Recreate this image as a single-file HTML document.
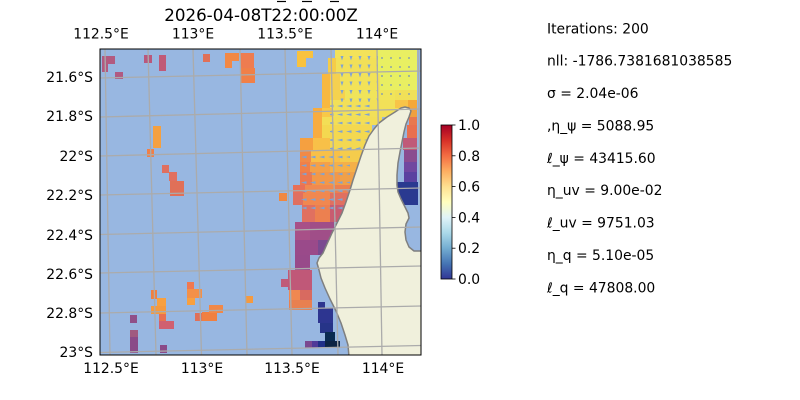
<!DOCTYPE html>
<html><head><meta charset="utf-8"><style>
html,body{margin:0;padding:0;background:#fff;}
svg{display:block;}
text{font-family:"DejaVu Sans","Liberation Sans",sans-serif;fill:#000;}
</style></head><body>
<svg width="800" height="400" viewBox="0 0 800 400" xmlns="http://www.w3.org/2000/svg">
<defs>
<clipPath id="ax"><rect x="100" y="49" width="321" height="306"/></clipPath>
<linearGradient id="cb" x1="0" y1="1" x2="0" y2="0">
<stop offset="0" stop-color="#313695"/><stop offset="0.1" stop-color="#4575b4"/>
<stop offset="0.2" stop-color="#74add1"/><stop offset="0.3" stop-color="#abd9e9"/>
<stop offset="0.4" stop-color="#e0f3f8"/><stop offset="0.5" stop-color="#ffffbf"/>
<stop offset="0.6" stop-color="#fee090"/><stop offset="0.7" stop-color="#fdae61"/>
<stop offset="0.8" stop-color="#f46d43"/><stop offset="0.9" stop-color="#d73027"/>
<stop offset="1" stop-color="#a50026"/></linearGradient>
<pattern id="pa" x="338" y="54" width="9" height="8.5" patternUnits="userSpaceOnUse"><path d="M2.5,2 L5.5,2 L4,6.5 Z" fill="#7fa3d3"/></pattern>
<pattern id="pb" x="378" y="54" width="9" height="9" patternUnits="userSpaceOnUse"><circle cx="4" cy="4" r="0.9" fill="#6f8fbf"/></pattern>
<pattern id="pc" x="300" y="102" width="9" height="8.5" patternUnits="userSpaceOnUse"><path d="M1,4 L6.5,2.8 L6.5,5.4 Z" fill="#7fa3d3"/></pattern>
</defs>

<!-- title -->
<line x1="277" y1="1.5" x2="286" y2="1.5" stroke="#000" stroke-width="1.2"/>
<line x1="302" y1="1.5" x2="312" y2="1.5" stroke="#000" stroke-width="1.2"/>
<line x1="330" y1="1.5" x2="339" y2="1.5" stroke="#000" stroke-width="1.2"/>
<text x="261" y="21" font-size="16.7" text-anchor="middle">2026-04-08T22:00:00Z</text>

<g clip-path="url(#ax)">
<rect x="100" y="49" width="321" height="306" fill="#98b7e1"/>
<!-- left scattered cells -->
<rect x="102" y="56" width="13" height="8" fill="#b25a80"/>
<rect x="102" y="64" width="6" height="8" fill="#b25a80"/>
<rect x="115" y="72" width="8" height="7" fill="#b05a82"/>
<rect x="144" y="55" width="8" height="8" fill="#b9587c"/>
<rect x="159" y="55" width="7" height="16" fill="#c05a78"/>
<rect x="203" y="54" width="7" height="8" fill="#e07058"/>
<rect x="225" y="53" width="14" height="8" fill="#f28845"/>
<rect x="225" y="61" width="7" height="7" fill="#f28845"/>
<rect x="240" y="53" width="14" height="15" fill="#ee7c50"/>
<rect x="240" y="68" width="15" height="15" fill="#f08048"/>
<rect x="153" y="126" width="8" height="22" fill="#f5a040"/>
<rect x="147" y="149" width="7" height="8" fill="#f08048"/>
<rect x="162" y="165" width="7" height="8" fill="#e07060"/>
<rect x="169" y="172" width="8" height="9" fill="#e07060"/>
<rect x="170" y="181" width="14" height="15" fill="#e07058"/>
<rect x="151" y="290" width="6" height="9" fill="#f08040"/>
<rect x="157" y="298" width="9" height="8" fill="#f8a040"/>
<rect x="151" y="306" width="15" height="8" fill="#f59a40"/>
<rect x="159" y="314" width="7" height="8" fill="#e87050"/>
<rect x="159" y="321" width="15" height="8" fill="#d06070"/>
<rect x="130" y="315" width="7" height="8" fill="#905088"/>
<rect x="130" y="330" width="8" height="7" fill="#a05a80"/>
<rect x="130" y="337" width="8" height="16" fill="#8a4a88"/>
<rect x="160" y="345" width="7" height="8" fill="#8a4a88"/>
<rect x="187" y="282" width="7" height="8" fill="#f07850"/>
<rect x="187" y="289" width="15" height="9" fill="#f39048"/>
<rect x="187" y="298" width="8" height="7" fill="#f8a040"/>
<rect x="195" y="313" width="7" height="8" fill="#e07058"/>
<rect x="202" y="312" width="15" height="9" fill="#f08040"/>
<rect x="209" y="305" width="14" height="8" fill="#f08848"/>
<rect x="246" y="296" width="7" height="7" fill="#f59a40"/>
<rect x="281" y="279" width="8" height="8" fill="#c05a78"/>
<rect x="279" y="193" width="8" height="8" fill="#f08840"/>
<!-- right main region -->
<rect x="297" y="51" width="16" height="7" fill="#f9c23e"/>
<rect x="297" y="58" width="9" height="9" fill="#f9c23e"/>
<rect x="335" y="50" width="42" height="8" fill="#f3e25a"/>
<rect x="377" y="50" width="40" height="8" fill="#e9ef62"/>
<rect x="328" y="58" width="8" height="16" fill="#f5cc48"/>
<rect x="336" y="58" width="42" height="16" fill="#f2e058"/>
<rect x="378" y="58" width="39" height="16" fill="#e8f062"/>
<rect x="322" y="74" width="8" height="34" fill="#f8b840"/>
<rect x="330" y="74" width="10" height="16" fill="#f5d050"/>
<rect x="340" y="74" width="40" height="16" fill="#f2e258"/>
<rect x="380" y="74" width="37" height="16" fill="#e8ef62"/>
<rect x="330" y="90" width="15" height="10" fill="#f5d24e"/>
<rect x="345" y="90" width="50" height="10" fill="#f0e45a"/>
<rect x="395" y="90" width="22" height="10" fill="#f0e058"/>
<rect x="330" y="100" width="65" height="8" fill="#f2e058"/>
<rect x="395" y="100" width="13" height="8" fill="#f8c448"/>
<rect x="408" y="100" width="9" height="8" fill="#f5a838"/>
<rect x="313" y="108" width="9" height="30" fill="#f8ac40"/>
<rect x="322" y="108" width="11" height="9" fill="#f8c848"/>
<rect x="333" y="108" width="67" height="9" fill="#f2e058"/>
<rect x="409" y="108" width="8" height="9" fill="#f0a040"/>
<rect x="322" y="117" width="60" height="8" fill="#f3de56"/>
<rect x="409" y="117" width="8" height="8" fill="#e87850"/>
<rect x="322" y="125" width="50" height="13" fill="#f4d850"/>
<rect x="407" y="125" width="10" height="13" fill="#e87050"/>
<rect x="300" y="138" width="13" height="12" fill="#f5a040"/>
<rect x="313" y="138" width="17" height="12" fill="#f8c048"/>
<rect x="330" y="138" width="37" height="12" fill="#f3d852"/>
<rect x="403" y="138" width="14" height="12" fill="#c05a78"/>
<rect x="300" y="150" width="11" height="12" fill="#f08a48"/>
<rect x="311" y="150" width="29" height="12" fill="#f8c048"/>
<rect x="340" y="150" width="23" height="12" fill="#f5cc4c"/>
<rect x="404" y="150" width="13" height="12" fill="#8a4c90"/>
<rect x="300" y="162" width="10" height="10" fill="#f08048"/>
<rect x="310" y="162" width="20" height="10" fill="#f4a048"/>
<rect x="330" y="162" width="29" height="10" fill="#f5b048"/>
<rect x="404" y="162" width="13" height="10" fill="#7048a0"/>
<rect x="300" y="172" width="12" height="13" fill="#ec7850"/>
<rect x="312" y="172" width="28" height="13" fill="#f39848"/>
<rect x="340" y="172" width="17" height="13" fill="#f0a048"/>
<rect x="404" y="172" width="13" height="10" fill="#5a42a0"/>
<rect x="293" y="185" width="12" height="8" fill="#e87058"/>
<rect x="305" y="185" width="30" height="8" fill="#f08a50"/>
<rect x="335" y="185" width="18" height="8" fill="#ec8050"/>
<rect x="396" y="182" width="22" height="23" fill="#2a3a90"/>
<rect x="293" y="193" width="10" height="12" fill="#e07060"/>
<rect x="303" y="193" width="27" height="12" fill="#f08850"/>
<rect x="330" y="193" width="19" height="12" fill="#e07060"/>
<rect x="302" y="205" width="13" height="17" fill="#e07060"/>
<rect x="315" y="205" width="15" height="17" fill="#ec8050"/>
<rect x="330" y="205" width="14" height="17" fill="#c85c70"/>
<rect x="295" y="222" width="15" height="18" fill="#a85088"/>
<rect x="310" y="222" width="24" height="18" fill="#a04e88"/>
<rect x="295" y="240" width="23" height="15" fill="#9a4a8a"/>
<rect x="318" y="240" width="12" height="15" fill="#7a4a90"/>
<rect x="295" y="255" width="15" height="15" fill="#984a8a"/>
<rect x="288" y="270" width="24" height="20" fill="#c05878"/>
<rect x="289" y="290" width="11" height="10" fill="#f08850"/>
<rect x="300" y="290" width="12" height="10" fill="#d86a60"/>
<rect x="289" y="300" width="23" height="10" fill="#e88050"/>
<rect x="318" y="302" width="7" height="6" fill="#2d3590"/>
<rect x="318" y="308" width="15" height="15" fill="#2d3590"/>
<rect x="320" y="323" width="13" height="10" fill="#263488"/>
<rect x="325" y="332" width="10" height="9" fill="#0a2a50"/>
<rect x="305" y="341" width="7" height="7" fill="#7a4890"/>
<rect x="312" y="341" width="6" height="7" fill="#503a98"/>
<rect x="318" y="341" width="7" height="7" fill="#203088"/>
<rect x="325" y="341" width="15" height="7" fill="#0c2444"/>
<!-- quiver arrows -->
<rect x="338" y="54" width="40" height="48" fill="url(#pa)"/>
<rect x="378" y="54" width="37" height="46" fill="url(#pb)"/>
<rect x="330" y="102" width="42" height="48" fill="url(#pc)"/>
<rect x="300" y="150" width="50" height="62" fill="url(#pc)"/>
<!-- land -->
<path d="M405,107 L409,108 L411,111 L409,117 L406,124 L404,132 L402,142 L400,152 L398,163 L397,175 L397,185 L398,192 L401,199 L405,207 L408,213 L409,218 L406,224 L405,232 L406,240 L409,247 L414,251 L423,251 L423,357 L349,357 L348,345 L345,335 L341,323 L336,311 L330,299 L325,288 L321,278 L319,270 L317,263 L319,258 L323,253 L327,244 L332,233 L337,223 L342,213 L346,202 L350,190 L353,180 L357,168 L361,156 L365,145 L369,136 L374,129 L379,123 L387,117 L395,112 L401,108 Z" fill="#f0f0dc" stroke="#7f7f7f" stroke-width="1.5" stroke-linejoin="round"/>
<!-- gridlines -->
<g stroke="#ababab" stroke-width="1.3" fill="none">
<line x1="105" y1="49" x2="110" y2="355"/>
<line x1="148" y1="49" x2="156" y2="355"/>
<line x1="193" y1="49" x2="201.5" y2="355"/>
<line x1="240" y1="49" x2="247" y2="355"/>
<line x1="285" y1="49" x2="292" y2="355"/>
<line x1="331" y1="49" x2="338" y2="355"/>
<line x1="377" y1="49" x2="382" y2="355"/>
<line x1="418" y1="49" x2="423" y2="355"/>
<line x1="100" y1="78" x2="421" y2="71"/>
<line x1="100" y1="117" x2="421" y2="109"/>
<line x1="100" y1="156" x2="421" y2="148"/>
<line x1="100" y1="195" x2="421" y2="188"/>
<line x1="100" y1="234.5" x2="421" y2="227"/>
<line x1="100" y1="273" x2="421" y2="266"/>
<line x1="100" y1="313" x2="421" y2="306"/>
<line x1="100" y1="352.5" x2="421" y2="345.5"/>
</g>
</g>
<rect x="100" y="49" width="321" height="306" fill="none" stroke="#000" stroke-width="1"/>

<!-- axis labels -->
<g font-size="13.9" text-anchor="middle">
<text x="101" y="38.5">112.5°E</text>
<text x="193" y="38.5">113°E</text>
<text x="285" y="38.5">113.5°E</text>
<text x="377" y="38.5">114°E</text>
<text x="111" y="373">112.5°E</text>
<text x="202" y="373">113°E</text>
<text x="292" y="373">113.5°E</text>
<text x="383" y="373">114°E</text>
</g>
<g font-size="13.9" text-anchor="end">
<text x="93" y="82">21.6°S</text>
<text x="93" y="121">21.8°S</text>
<text x="93" y="161">22°S</text>
<text x="93" y="200">22.2°S</text>
<text x="93" y="240">22.4°S</text>
<text x="93" y="279">22.6°S</text>
<text x="93" y="318">22.8°S</text>
<text x="93" y="357">23°S</text>
</g>

<!-- colorbar -->
<rect x="441" y="125" width="11" height="154" fill="url(#cb)" stroke="#000" stroke-width="0.8"/>
<g stroke="#000" stroke-width="0.8">
<line x1="452" y1="125" x2="455.5" y2="125"/>
<line x1="452" y1="155.8" x2="455.5" y2="155.8"/>
<line x1="452" y1="186.6" x2="455.5" y2="186.6"/>
<line x1="452" y1="217.4" x2="455.5" y2="217.4"/>
<line x1="452" y1="248.2" x2="455.5" y2="248.2"/>
<line x1="452" y1="279" x2="455.5" y2="279"/>
</g>
<g font-size="13.9">
<text x="458" y="130">1.0</text>
<text x="458" y="161">0.8</text>
<text x="458" y="191.5">0.6</text>
<text x="458" y="222.5">0.4</text>
<text x="458" y="253">0.2</text>
<text x="458" y="284">0.0</text>
</g>

<!-- info text -->
<g font-size="13.9">
<text x="547" y="33.3">Iterations: 200</text>
<text x="547" y="65.7">nll: -1786.7381681038585</text>
<text x="547" y="98">σ = 2.04e-06</text>
<text x="547" y="130.5">,η_ψ = 5088.95</text>
<text x="547" y="163">ℓ_ψ = 43415.60</text>
<text x="547" y="195">η_uv = 9.00e-02</text>
<text x="547" y="227.5">ℓ_uv = 9751.03</text>
<text x="547" y="260">η_q = 5.10e-05</text>
<text x="547" y="292.5">ℓ_q = 47808.00</text>
</g>
</svg>
</body></html>
